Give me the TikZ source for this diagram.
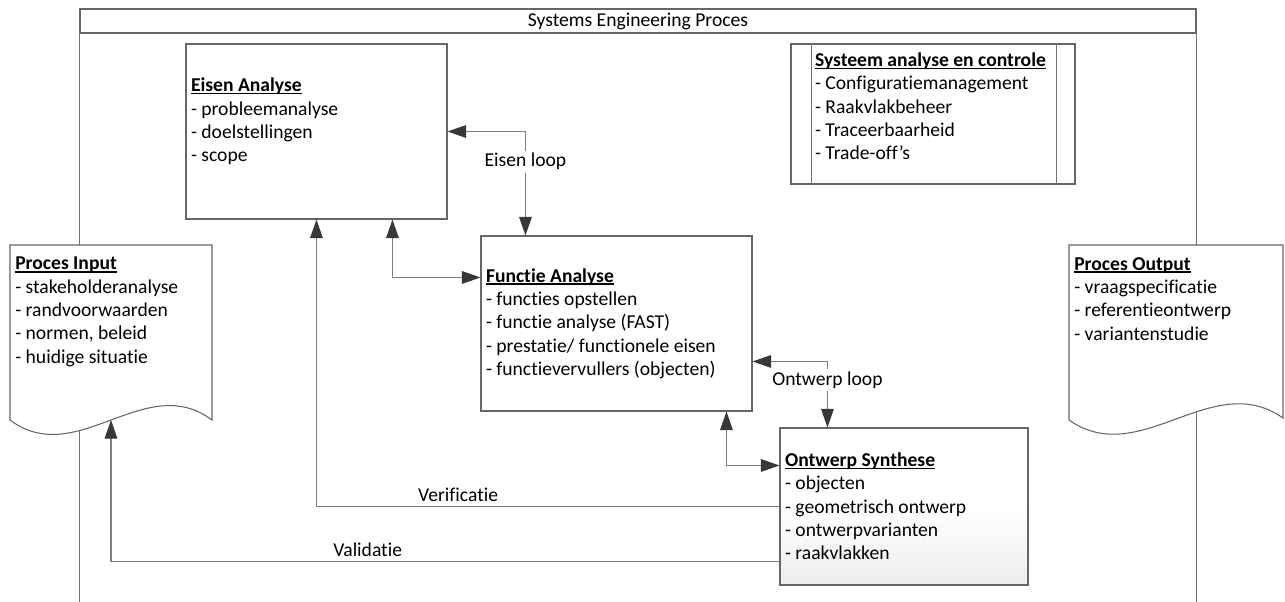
\documentclass[tikz,border=0pt]{standalone}
\usepackage{fontspec}
\setmainfont{Carlito}[Ligatures={NoCommon,NoContextual}]
\usepackage{tikz}
\usetikzlibrary{arrows.meta, calc, positioning}

\newcommand{\sefont}{\fontsize{14.7}{17.5}\selectfont}
\newlength{\hdrlen}
\newcommand{\hdr}[1]{\mbox{\settowidth{\hdrlen}{\textbf{#1}}\textbf{#1}\hspace{-\hdrlen}\rule[-1.9pt]{\hdrlen}{0.9pt}}}

\tikzstyle{frame} = [draw=black!55, line width=0.8pt]
\tikzstyle{titlebox} = [rectangle, minimum width=837pt, minimum height=18pt, inner sep=0pt, draw=black!60, line width=0.8pt, fill=white, font=\sefont]
\tikzstyle{process} = [rectangle, minimum height=131.25pt, inner xsep=3.75pt, align=flush left, draw=black!60, fill=white, line width=0.8pt, font=\sefont]
\tikzstyle{synthese} = [process, minimum height=117.75pt, top color=white, bottom color=black!7, middle color=white]
\tikzstyle{control} = [process, minimum height=105pt, inner xsep=18pt]
\tikzstyle{document} = [draw=black!60, fill=white, line width=0.8pt]
\tikzstyle{doctext} = [anchor=north west, inner sep=0pt, align=left, font=\sefont]
\tikzstyle{arrow} = [draw=black!50, line width=0.9pt, >={Triangle[length=14pt, width=9.5pt, color=black!78]}]
\tikzstyle{looplabel} = [fill=white, inner sep=2pt, font=\sefont]
\tikzstyle{flowlabel} = [above=3.5pt, inner sep=0pt, font=\sefont]

\begin{document}
\begin{tikzpicture}[x=0.75pt, y=-0.75pt]

\useasboundingbox (0,0) rectangle (1285,601);

% frame of the process
\node (title) [titlebox] at (638,21) {Systems Engineering Proces};
\draw [frame] (title.south west) -- ++(0,568);
\draw [frame] (title.south east) -- ++(0,568);

% input and output documents
\draw [document] (10,245) -- (212,245) -- (212,420) .. controls (145,370) and (77,470) .. (10,420) -- cycle;
\coordinate (inwave) at (111,420);
\node (input) [doctext] at (15,257) {\hdr{Proces Input}\\- stakeholderanalyse\\- randvoorwaarden\\- normen, beleid\\- huidige situatie};

\draw [document] (1069,245) -- (1283,245) -- (1283,418) .. controls (1212,368) and (1140,470) .. (1069,420) -- cycle;
\node (output) [doctext] at (1074,257) {\hdr{Proces Output}\\- vraagspecificatie\\- referentieontwerp\\- variantenstudie};

% main blocks
\node (eisen) [process, text width=188.25pt] at (316.5,131.5) {\hdr{Eisen Analyse}\\- probleemanalyse\\- doelstellingen\\- scope\\~};
\node (functie) [process, text width=195.75pt] at (616.5,323.5) {\hdr{Functie Analyse}\\- functies opstellen\\- functie analyse (FAST)\\- prestatie/ functionele eisen\\- functievervullers (objecten)};
\node (ontwerp) [synthese, text width=178.5pt] at (904,506.5) {\hdr{Ontwerp Synthese}\\- objecten\\- geometrisch ontwerp\\- ontwerpvarianten\\- raakvlakken};
\node (systeem) [control, text width=177pt] at (933,114) {\hdr{Systeem analyse en controle}\\- Configuratiemanagement\\- Raakvlakbeheer\\- Traceerbaarheid\\- Trade-off’s\\[-6pt]~};
\draw [frame] ($(systeem.north west)+(21,0)$) -- ($(systeem.south west)+(21,0)$);
\draw [frame] ($(systeem.north east)+(-19,0)$) -- ($(systeem.south east)+(-19,0)$);

% loops
\draw [arrow, <->] (eisen.east) -| node[looplabel, pos=0.645] {Eisen loop} ($(functie.north west)+(45,0)$);
\draw [arrow, <->] ($(eisen.south west)+(207,0)$) |- ($(functie.north west)+(0,42)$);
\draw [arrow, <->] ($(functie.north east)+(0,126)$) -| node[looplabel, pos=0.64] {Ontwerp loop} ($(ontwerp.north west)+(48,0)$);
\draw [arrow, <->] ($(functie.south west)+(246,0)$) |- ($(ontwerp.north west)+(0,38)$);

% verification and validation
\draw [arrow, ->] (ontwerp.west) -| node[flowlabel, pos=0.347] {Verificatie} ($(eisen.south west)+(131,0)$);
\draw [arrow, ->] ($(ontwerp.north west)+(0,134)$) -| node[flowlabel, pos=0.308] {Validatie} (inwave);

\end{tikzpicture}
\end{document}
